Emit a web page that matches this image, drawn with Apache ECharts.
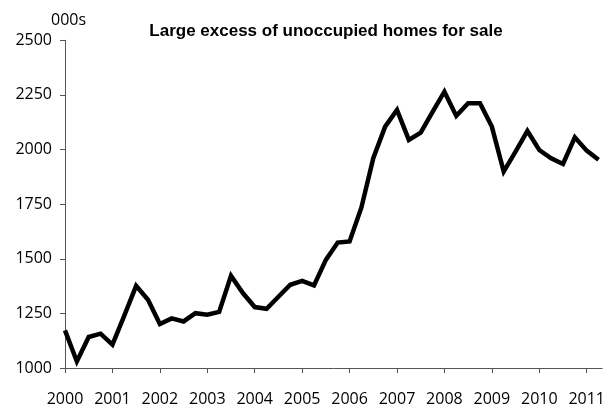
<!DOCTYPE html>
<html>
<head>
<meta charset="utf-8">
<script src="https://cdn.jsdelivr.net/npm/echarts@6/dist/echarts.min.js"></script>
<style>html,body{margin:0;padding:0;background:#fff;}#c{width:608px;height:407px;}</style>
</head>
<body>
<div id="c"></div>
<script>
var quarters = [
  '2000Q1','2000Q2','2000Q3','2000Q4','2001Q1','2001Q2','2001Q3','2001Q4',
  '2002Q1','2002Q2','2002Q3','2002Q4','2003Q1','2003Q2','2003Q3','2003Q4',
  '2004Q1','2004Q2','2004Q3','2004Q4','2005Q1','2005Q2','2005Q3','2005Q4',
  '2006Q1','2006Q2','2006Q3','2006Q4','2007Q1','2007Q2','2007Q3','2007Q4',
  '2008Q1','2008Q2','2008Q3','2008Q4','2009Q1','2009Q2','2009Q3','2009Q4',
  '2010Q1','2010Q2','2010Q3','2010Q4','2011Q1','2011Q2'
];
var homesForSale = [
  1172, 1030, 1142, 1157, 1107, 1240, 1376, 1312,
  1201, 1227, 1213, 1251, 1244, 1257, 1422, 1343,
  1279, 1271, 1326, 1381, 1399, 1378, 1495, 1574,
  1579, 1735, 1960, 2105, 2181, 2044, 2077, 2172,
  2265, 2154, 2212, 2212, 2105, 1899, 1990, 2085,
  1998, 1960, 1934, 2056, 1995, 1953
];
var yearLabels = ['2000','2001','2002','2003','2004','2005','2006','2007','2008','2009','2010','2011'];
var yTicks = [1000, 1250, 1500, 1750, 2000, 2250, 2500];

var chart = echarts.init(document.getElementById('c'), null, {renderer: 'canvas'});
var font = '"Open Sans", "Liberation Sans", sans-serif';
chart.setOption({
  animation: false,
  backgroundColor: '#fff',
  grid: {left: 65, right: 4.7, top: 40.3, bottom: 38.7, containLabel: false},
  title: {
    text: 'Large excess of unoccupied homes for sale',
    left: 321, top: 18, textAlign: 'center',
    textStyle: {fontFamily: '"Liberation Sans Narrow", "Liberation Sans", sans-serif', fontWeight: 'bold', fontSize: 17, color: '#000'}
  },
  graphic: [{
    type: 'text', left: 51, top: 12,
    style: {text: '000s', font: '16px ' + font, fill: '#000'}
  }],
  xAxis: {
    type: 'value', min: 0, max: 45.3, interval: 4,
    axisLine: {show: true, lineStyle: {color: '#555', width: 1}},
    axisTick: {show: true, inside: false, length: 5, lineStyle: {color: '#555'}},
    splitLine: {show: false},
    axisLabel: {
      margin: 23, color: '#000', fontSize: 16, fontFamily: font,
      showMaxLabel: false,
      formatter: function (v) { var k = Math.round(v / 4); return yearLabels[k] || ''; }
    }
  },
  yAxis: {
    type: 'value', min: yTicks[0], max: yTicks[yTicks.length - 1], interval: 250,
    axisLine: {show: true, lineStyle: {color: '#555', width: 1}},
    axisTick: {show: true, inside: false, length: 5, lineStyle: {color: '#555'}},
    splitLine: {show: false},
    axisLabel: {margin: 13, color: '#000', fontSize: 16, fontFamily: font,
      formatter: function (v) { return String(v); }}
  },
  series: [{
    type: 'line',
    name: 'Homes for sale',
    data: homesForSale.map(function (v, i) { return [i, v]; }),
    showSymbol: false,
    symbol: 'none',
    lineStyle: {color: '#000', width: 4.5, join: 'miter'},
    z: 3
  }]
});
</script>
</body>
</html>
